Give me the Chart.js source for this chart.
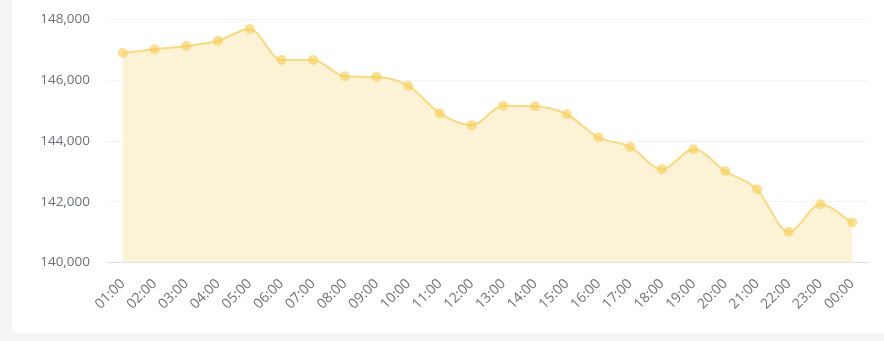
<!DOCTYPE html>
<html>
<head>
<meta charset="utf-8">
<script src="https://cdn.jsdelivr.net/npm/chart.js@4/dist/chart.umd.min.js"></script>
<style>
  html, body { margin: 0; padding: 0; width: 884px; height: 341px; background: #f4f6f5; overflow: hidden; }
  #card { position: absolute; left: 12px; top: -10px; width: 890px; height: 343px; background: #ffffff; border-radius: 8px; }
  #wrap { position: absolute; left: 12px; top: 0; width: 872px; height: 333px; }
</style>
</head>
<body>
<div id="card"></div>
<div id="wrap"><canvas id="c" width="872" height="333"></canvas></div>
<script>
const categories = ["01:00","02:00","03:00","04:00","05:00","06:00","07:00","08:00","09:00","10:00","11:00","12:00","13:00","14:00","15:00","16:00","17:00","18:00","19:00","20:00","21:00","22:00","23:00","00:00"];
const values = [146900,147020,147130,147300,147690,146670,146670,146130,146110,145820,144910,144520,145160,145140,144880,144120,143810,143070,143730,143010,142410,141010,141920,141320];
const yMin = 140000, yMax = 148000, yStep = 2000;

new Chart(document.getElementById('c'), {
  type: 'line',
  data: {
    labels: categories,
    datasets: [{
      data: values,
      borderColor: 'rgba(247,208,95,0.75)',
      borderWidth: 2,
      backgroundColor: '#fcf2d6',
      fill: 'start',
      cubicInterpolationMode: 'monotone',
      pointRadius: 5,
      pointBorderWidth: 0,
      pointBackgroundColor: 'rgba(246,205,85,0.62)',
      pointHoverRadius: 5
    }]
  },
  options: {
    responsive: false,
    animation: false,
    layout: { padding: { left: 0, right: 16, top: 0, bottom: 0 } },
    plugins: { legend: { display: false }, tooltip: { enabled: false } },
    scales: {
      x: {
        offset: true,
        grid: { display: false, drawTicks: false },
        border: { display: true, color: '#dfe1e4', width: 1 },
        ticks: {
          color: '#6e7079',
          font: { family: 'Open Sans', size: 14 },
          maxRotation: 45, minRotation: 45,
          padding: 13,
          autoSkip: false
        },
        afterFit: s => { s.height = 70.5; }
      },
      y: {
        min: yMin, max: yMax,
        grid: { color: '#f3f3f3', drawTicks: false },
        border: { display: false },
        ticks: {
          stepSize: yStep,
          color: '#6e7079',
          font: { family: 'Open Sans', size: 13.5 },
          padding: 17,
          callback: v => v.toLocaleString('en-US')
        },
        afterFit: s => { s.width = 95; s.paddingTop = 19.5; }
      }
    }
  }
});
</script>
</body>
</html>
